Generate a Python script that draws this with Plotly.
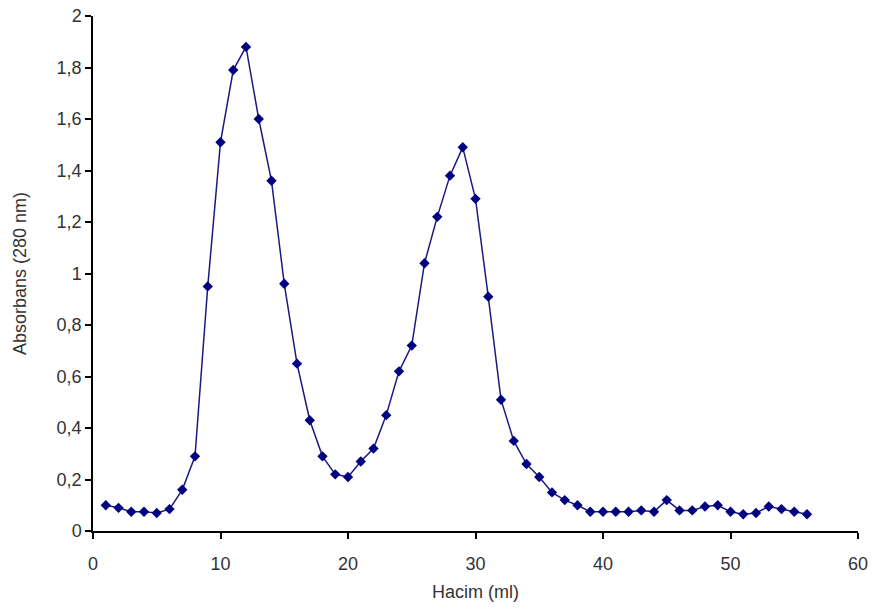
import plotly.graph_objects as go

volume_ml = list(range(1, 57))
absorbance = [0.10, 0.09, 0.075, 0.075, 0.07, 0.085, 0.16, 0.29, 0.95, 1.51,
              1.79, 1.88, 1.60, 1.36, 0.96, 0.65, 0.43, 0.29, 0.22, 0.21,
              0.27, 0.32, 0.45, 0.62, 0.72, 1.04, 1.22, 1.38, 1.49, 1.29,
              0.91, 0.51, 0.35, 0.26, 0.21, 0.15, 0.12, 0.10, 0.075, 0.075,
              0.075, 0.075, 0.08, 0.075, 0.12, 0.08, 0.08, 0.095, 0.10, 0.075,
              0.065, 0.07, 0.095, 0.085, 0.075, 0.065]

x_ticks = [0, 10, 20, 30, 40, 50, 60]
y_ticks = [0, 0.2, 0.4, 0.6, 0.8, 1.0, 1.2, 1.4, 1.6, 1.8, 2.0]

fig = go.Figure()
fig.add_trace(go.Scatter(
    x=volume_ml, y=absorbance, mode="lines+markers",
    line=dict(color="#1a1a80", width=1.5),
    marker=dict(symbol="diamond", size=8, color="#000080"),
    showlegend=False,
))

axis_font = dict(family="Liberation Sans Narrow, Arial Narrow, Liberation Sans, Arial", size=18, color="#333")
title_font = dict(family="Liberation Sans, Arial", size=18, color="#333")
fig.update_layout(
    width=874, height=613,
    margin=dict(l=93, r=16, t=16, b=82),
    paper_bgcolor="white", plot_bgcolor="white",
    separators=",.",
    xaxis=dict(range=[0, 60], tickvals=x_ticks, showgrid=False, zeroline=False,
               showline=True, linecolor="black", linewidth=1.5, automargin=False,
               ticks="outside", ticklen=6, tickcolor="black", tickwidth=1.5,
               tickfont=axis_font, ticklabeloverflow="allow", ticklabelstandoff=10,
               title=dict(text="Hacim (ml)", font=title_font, standoff=12)),
    yaxis=dict(range=[0, 2], tickvals=y_ticks, showgrid=False, zeroline=False,
               showline=True, linecolor="black", linewidth=1.5, automargin=False,
               ticks="outside", ticklen=6, tickcolor="black", tickwidth=1.5,
               tickfont=axis_font, tickformat="~r", ticklabeloverflow="allow",
               title=dict(text="Absorbans (280 nm)", font=title_font, standoff=25)),
)
fig.write_html("out.html",
               config={"displayModeBar": False},
               post_script="document.body.style.margin='0';document.body.style.overflow='hidden';")
